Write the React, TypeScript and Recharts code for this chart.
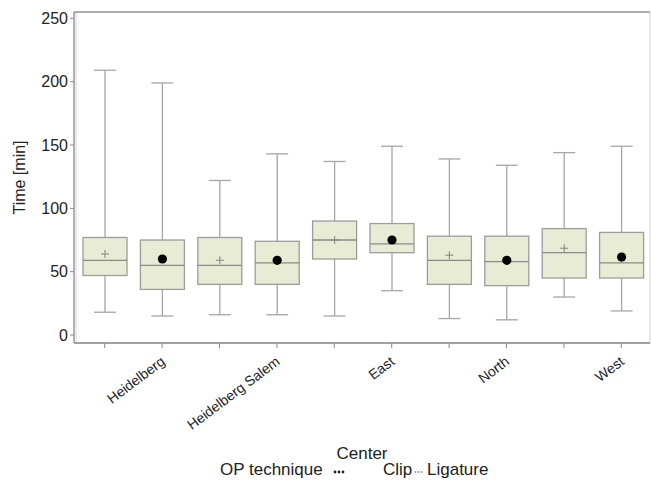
import React from 'react';
import { ComposedChart, Bar, XAxis, YAxis, Legend, ReferenceArea, ReferenceLine } from 'recharts';

const centers = ['Heidelberg', 'Heidelberg Salem', 'East', 'North', 'West'];
const techniques = ['Clip', 'Ligature'];

// one value per box: Heidelberg Clip, Heidelberg Ligature, Salem Clip, ...
const minVals = [18, 15, 16, 16, 15, 35, 13, 12, 30, 19];
const q1Vals = [47, 36, 40, 40, 60, 65, 40, 39, 45, 45];
const medianVals = [59, 55, 55, 57, 75, 72, 59, 58, 65, 57];
const meanVals = [64, 60, 59, 59, 75, 75, 63, 59, 68.5, 61.5];
const q3Vals = [77, 75, 77, 74, 90, 88, 78, 78, 84, 81];
const maxVals = [209, 199, 122, 143, 137, 149, 139, 134, 144, 149];

const yTicks = [0, 50, 100, 150, 200, 250];
const yDomain = [-6.3, 255];

const data = centers.flatMap((c, i) =>
  techniques.map((t, j) => {
    const k = i * 2 + j;
    return {
      id: `${c} - ${t}`,
      center: c,
      technique: t,
      min: minVals[k],
      q1: q1Vals[k],
      median: medianVals[k],
      mean: meanVals[k],
      q3: q3Vals[k],
      max: maxVals[k],
    };
  })
);

const FONT = '"Liberation Sans", Arial, sans-serif';
const BOX_FILL = '#e8ecd4';
const BOX_STROKE = '#9c9c9c';
const WHISKER = '#a6a6a6';

const BoxShape = (props: any) => {
  const { x, y, width, height, payload } = props;
  if (!payload) return null;
  const top = Math.min(y, y + height);
  const bottom = Math.max(y, y + height);
  const { min, max, q1, median, q3, mean, technique } = payload;
  const py = (v: number) => bottom - ((v - min) / (max - min)) * (bottom - top);
  const cx = x + width / 2;
  const cap = width * 0.5;
  return (
    <g>
      <line x1={cx} x2={cx} y1={py(max)} y2={py(q3)} stroke={WHISKER} strokeWidth={1.3} />
      <line x1={cx} x2={cx} y1={py(q1)} y2={py(min)} stroke={WHISKER} strokeWidth={1.3} />
      <line x1={cx - cap / 2} x2={cx + cap / 2} y1={py(max)} y2={py(max)} stroke={WHISKER} strokeWidth={1.3} />
      <line x1={cx - cap / 2} x2={cx + cap / 2} y1={py(min)} y2={py(min)} stroke={WHISKER} strokeWidth={1.3} />
      <rect x={x} y={py(q3)} width={width} height={py(q1) - py(q3)} fill={BOX_FILL} stroke={BOX_STROKE} strokeWidth={1.3} />
      <line x1={x} x2={x + width} y1={py(median)} y2={py(median)} stroke="#8a8a8a" strokeWidth={1.3} />
      {technique === 'Clip' ? (
        <g stroke="#8a8a8a" strokeWidth={1.1}>
          <line x1={cx - 4} x2={cx + 4} y1={py(mean)} y2={py(mean)} />
          <line x1={cx} x2={cx} y1={py(mean) - 4} y2={py(mean) + 4} />
        </g>
      ) : (
        <circle cx={cx} cy={py(mean)} r={4.6} fill="#000" />
      )}
    </g>
  );
};

const CatTick = (props: any) => {
  const { x, y, payload } = props;
  const row = data[payload.index];
  if (!row || row.technique !== techniques[1]) return null;
  return (
    <g transform={`translate(${x},${y})`}>
      <text
        x={0}
        y={0}
        dy={13}
        dx={-5}
        transform="rotate(-37)"
        textAnchor="end"
        fontSize={14}
        fill="#222"
        fontFamily={FONT}
      >
        {row.center}
      </text>
    </g>
  );
};

const CenterLabel = (props: any) => {
  const vb = props.viewBox || {};
  return (
    <text x={vb.x + vb.width / 2} y={vb.y + 116} textAnchor="middle" fontSize={17} fill="#222" fontFamily={FONT}>
      Center
    </text>
  );
};

const TimeLabel = (props: any) => {
  const vb = props.viewBox || {};
  const cx = vb.x + 9;
  const cy = vb.y + vb.height / 2;
  return (
    <text
      x={cx}
      y={cy}
      transform={`rotate(-90, ${cx}, ${cy})`}
      textAnchor="middle"
      dominantBaseline="central"
      fontSize={16}
      fill="#222"
      fontFamily={FONT}
    >
      Time [min]
    </text>
  );
};

const LegendContent = () => (
  <div style={{ position: 'relative', width: 652, height: 22, fontFamily: FONT, fontSize: 17, color: '#222' }}>
    <span style={{ position: 'absolute', left: 220, top: 0, whiteSpace: 'nowrap' }}>OP technique</span>
    <svg style={{ position: 'absolute', left: 333, top: 9 }} width={12} height={6}>
      <circle cx={2} cy={3} r={1.4} fill="#222" />
      <circle cx={6} cy={3} r={1.4} fill="#222" />
      <circle cx={10} cy={3} r={1.4} fill="#222" />
    </svg>
    <span style={{ position: 'absolute', left: 383, top: 0, whiteSpace: 'nowrap' }}>{techniques[0]}</span>
    <svg style={{ position: 'absolute', left: 414, top: 9 }} width={9} height={6}>
      <circle cx={1.5} cy={3} r={1} fill="#999" />
      <circle cx={4.5} cy={3} r={1} fill="#999" />
      <circle cx={7.5} cy={3} r={1} fill="#999" />
    </svg>
    <span style={{ position: 'absolute', left: 427, top: 0, whiteSpace: 'nowrap' }}>{techniques[1]}</span>
  </div>
);

export default function App() {
  return (
    <div style={{ position: 'absolute', left: 0, top: 0, width: 652, height: 484, background: '#fff' }}>
      <ComposedChart
        width={652}
        height={484}
        data={data}
        margin={{ top: 12, right: 2, bottom: 2, left: 10 }}
      >
        <ReferenceArea y1={yDomain[0]} y2={yDomain[1]} fill="none" stroke="#d4d4d4" ifOverflow="visible" />
        <ReferenceLine y={yDomain[1]} stroke="#999" strokeWidth={1.3} ifOverflow="visible" />
        <XAxis
          dataKey="id"
          interval={0}
          height={117}
          tick={<CatTick />}
          tickSize={5}
          tickLine={{ stroke: '#888' }}
          axisLine={{ stroke: '#888', strokeWidth: 1.3 }}
          padding={{ left: 2, right: 0 }}
          label={<CenterLabel />}
        />
        <YAxis
          type="number"
          domain={yDomain}
          ticks={yTicks}
          allowDataOverflow
          width={64}
          tickSize={4}
          tick={{ fontSize: 16, fill: '#222', fontFamily: FONT }}
          tickLine={{ stroke: '#888' }}
          axisLine={{ stroke: '#888', strokeWidth: 1.3 }}
          label={<TimeLabel />}
        />
        <Bar
          dataKey={(d: any) => [d.min, d.max]}
          barSize={44}
          shape={<BoxShape />}
          isAnimationActive={false}
        />
        <Legend verticalAlign="bottom" content={<LegendContent />} wrapperStyle={{ left: 0, width: 652, height: 22 }} />
      </ComposedChart>
    </div>
  );
}
